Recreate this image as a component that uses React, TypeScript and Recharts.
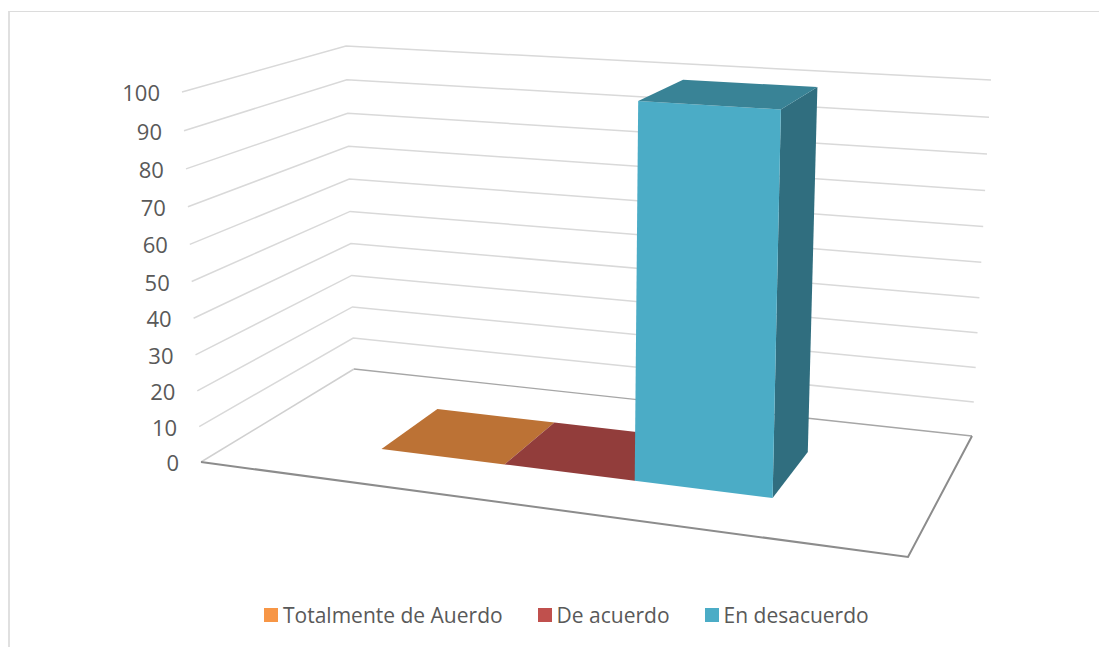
import { BarChart, Bar, XAxis, YAxis, CartesianGrid, Legend } from 'recharts';

const groups = ['Respuestas'];
const seriesNames = ['Totalmente de Auerdo', 'De acuerdo', 'En desacuerdo'];
const seriesColors = ['#F79646', '#C0504D', '#4BACC6'];
const seriesValues = [[0], [0], [100]];
const yTicks = [0, 10, 20, 30, 40, 50, 60, 70, 80, 90, 100];

const data = groups.map((group, i) => {
  const row: Record<string, string | number> = { group };
  seriesNames.forEach((name, s) => {
    row[name] = seriesValues[s][i];
  });
  return row;
});

const WIDTH = 1099;
const HEIGHT = 647;
const AXIS_W = 1;
const margin = { left: 200, right: 191, top: 92, bottom: 185 };
const plotLeft = margin.left + AXIS_W;
const plotH = HEIGHT - margin.top - margin.bottom;
const plotW = WIDTH - plotLeft - margin.right;

type Pt = [number, number];

// maps the unit square onto a quad: front-left, front-right, back-right, back-left
function quadMap(p0: Pt, p1: Pt, p2: Pt, p3: Pt) {
  const dx1 = p1[0] - p2[0];
  const dx2 = p3[0] - p2[0];
  const sx = p0[0] - p1[0] + p2[0] - p3[0];
  const dy1 = p1[1] - p2[1];
  const dy2 = p3[1] - p2[1];
  const sy = p0[1] - p1[1] + p2[1] - p3[1];
  const den = dx1 * dy2 - dx2 * dy1;
  const g = (sx * dy2 - dx2 * sy) / den;
  const h = (dx1 * sy - sx * dy1) / den;
  const a = p1[0] - p0[0] + g * p1[0];
  const b = p3[0] - p0[0] + h * p3[0];
  const d = p1[1] - p0[1] + g * p1[1];
  const e = p3[1] - p0[1] + h * p3[1];
  return (u: number, v: number): Pt => {
    const w = g * u + h * v + 1;
    return [(a * u + b * v + p0[0]) / w, (d * u + e * v + p0[1]) / w];
  };
}

const floorMap = quadMap([201, 462], [908, 557], [972, 436], [354, 369]);
const ceilMap = quadMap([182, 92], [926, 138], [991, 80], [346, 46]);

// t is 0..1 up the value axis, slightly compressed with height like the original perspective
function project(u: number, v: number, t: number): Pt {
  const k = t / (t + (1 - t) * 1.05);
  const f = floorMap(u, v);
  const c = ceilMap(u, v);
  return [f[0] + (c[0] - f[0]) * k, f[1] + (c[1] - f[1]) * k];
}

const toPath = (pts: Pt[], close = false) =>
  'M' + pts.map((p) => `${p[0].toFixed(1)},${p[1].toFixed(1)}`).join('L') + (close ? 'Z' : '');

function shade(hex: string, f: number) {
  const n = parseInt(hex.slice(1), 16);
  const c = [(n >> 16) & 255, (n >> 8) & 255, n & 255].map((x) => Math.round(x * f));
  return `rgb(${c[0]},${c[1]},${c[2]})`;
}

const BAR_V0 = 0.288;
const BAR_V1 = 0.694;

function Box(props: any) {
  const { x, width, height, fill } = props;
  const t = height / plotH;
  const nudge = 0.006 - 0.009 * t;
  const u0 = (x - plotLeft) / plotW;
  const u1 = (x + width - plotLeft) / plotW;
  const fl = project(u0 + 0.006, BAR_V0, 0);
  const fr = project(u1 + 0.006, BAR_V0, 0);
  const br = project(u1 + 0.006, BAR_V1, 0);
  const tfl = project(u0 + nudge, BAR_V0, t);
  const tfr = project(u1 + nudge, BAR_V0, t);
  const tbr = project(u1 + nudge, BAR_V1, t);
  const tbl = project(u0 + nudge, BAR_V1, t);
  return (
    <g>
      <path d={toPath([fr, br, tbr, tfr], true)} fill={shade(fill, 0.64)} />
      <path d={toPath([fl, fr, tfr, tfl], true)} fill={fill} />
      <path d={toPath([tfl, tfr, tbr, tbl], true)} fill={shade(fill, 0.76)} />
    </g>
  );
}

function GridLine(props: any) {
  const value = Math.round(((margin.top + plotH - props.y1) / plotH) * 100);
  const t = value / 100;
  const wall = [project(0, 0, t), project(0, 1, t), project(1, 1, t)];
  if (value !== 0) {
    return <path d={toPath(wall)} fill="none" stroke="#D9D9D9" strokeWidth={1.5} />;
  }
  return (
    <g>
      <path d={toPath([...wall, project(1, 0, 0)], true)} fill="#fff" stroke="none" />
      <path d={toPath([wall[0], wall[1]])} fill="none" stroke="#D0D0D0" strokeWidth={1.5} />
      <path d={toPath([wall[1], wall[2]])} fill="none" stroke="#A6A6A6" strokeWidth={1.3} />
      <path
        d={toPath([project(0, 0, 0), project(1, 0, 0), project(1, 1, 0)])}
        fill="none"
        stroke="#8C8C8C"
        strokeWidth={2}
      />
    </g>
  );
}

function ValueTick(props: any) {
  const { payload } = props;
  const p = project(0, 0, payload.value / 100);
  return (
    <text x={p[0] - 22} y={p[1] + 9} textAnchor="end" fontSize={22} fill="#595959" fontFamily="'Open Sans'">
      {payload.value}
    </text>
  );
}

function LegendRow({ payload }: any) {
  return (
    <div style={{ display: 'flex', marginLeft: 264, gap: 35, whiteSpace: 'nowrap' }}>
      {payload.map((item: any) => (
        <div key={item.value} style={{ display: 'flex', alignItems: 'center', gap: 5 }}>
          <span style={{ width: 14, height: 14, background: item.color, display: 'block' }} />
          <span style={{ fontSize: 21, color: '#595959', fontFamily: "'Open Sans'", lineHeight: '28px' }}>{item.value}</span>
        </div>
      ))}
    </div>
  );
}

export default function App() {
  return (
    <div style={{ position: 'absolute', left: 0, top: 0, width: WIDTH, height: HEIGHT, overflow: 'hidden' }}>
      <div
        style={{
          position: 'absolute',
          left: 8,
          top: 11,
          width: WIDTH - 8,
          height: HEIGHT - 11,
          borderTop: '1.5px solid #DCDCDC',
          borderLeft: '2px solid #E0E0E0',
        }}
      />
      <BarChart width={WIDTH} height={HEIGHT} data={data} margin={margin} barCategoryGap="21.2%" barGap={0}>
        <CartesianGrid vertical={false} horizontal={GridLine} />
        <XAxis dataKey="group" hide />
        <YAxis width={AXIS_W} domain={[0, 100]} ticks={yTicks} interval={0} axisLine={false} tickLine={false} tick={ValueTick} />
        <Legend
          layout="horizontal"
          align="center"
          verticalAlign="middle"
          itemSorter={null}
          wrapperStyle={{ left: 0, top: 601 }}
          content={LegendRow}
        />
        {seriesNames.map((name, i) => (
          <Bar key={name} dataKey={name} fill={seriesColors[i]} isAnimationActive={false} shape={Box} />
        ))}
      </BarChart>
    </div>
  );
}
